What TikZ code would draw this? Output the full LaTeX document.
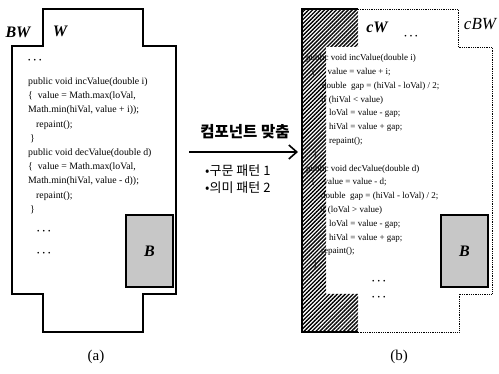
\documentclass[tikz,border=0pt]{standalone}
\usepackage{fontspec}
\setmainfont{Liberation Serif}
\newfontfamily\hangul{Noto Sans CJK KR}
\usetikzlibrary{arrows.meta, positioning, calc, patterns.meta}

% three small dots used in the code listings
\newcommand{\codedots}{{\fontsize{7}{7}\selectfont •\hspace{3pt}•\hspace{3pt}•}}

\begin{document}
\begin{tikzpicture}[
    x=1pt, y=-1pt, % work in pixel units, y downwards
    >={Straight Barb[length=8pt, width=14pt, line width=1.6pt]},
    shapeline/.style={line width=1.1pt, line join=miter},
    cutline/.style={line width=0.8pt, densely dotted},
    code/.style={anchor=base west, inner sep=0pt, font=\fontsize{9.8}{11}\selectfont},
    ccode/.style={code, font=\fontsize{9}{11}\selectfont},
    tag/.style={inner sep=0pt, font=\fontsize{16}{18}\selectfont\bfseries\itshape},
    bbox/.style={draw, line width=1.6pt, fill=black!22},
    hatch/.style={pattern={Lines[angle=45, distance=2.8pt, line width=1.35pt]}},
    caption/.style={inner sep=0pt, font=\fontsize{15}{17}\selectfont}
]

    \useasboundingbox (0,0) rectangle (499,374);

    % ---------- (a) widget W inside black-box widget BW ----------
    \draw[shapeline] (43,9) -- (143,9) -- (143,46) -- (176,46) -- (176,294)
        -- (143,294) -- (143,332) -- (43,332) -- (43,294) -- (12,294)
        -- (12,46) -- (43,46) -- cycle;
    \node[tag] (bwA) at (18,32) {BW};
    \node[tag] (wA) at (60,31) {W};

    \node[code] (a0) at (28,63) {\codedots};
    \node[code] (a1) at (28,85) {public void incValue(double i)};
    \node[code] (a2) at (28,99) {\{\ \ value = Math.max(loVal,};
    \node[code] (a3) at (28,113) {Math.min(hiVal, value + i));};
    \node[code] (a4) at (36,128) {repaint();};
    \node[code] (a5) at (30,142) {\}};
    \node[code] (a6) at (28,156) {public void decValue(double d)};
    \node[code] (a7) at (28,170) {\{\ \ value = Math.max(loVal,};
    \node[code] (a8) at (28,184) {Math.min(hiVal, value - d));};
    \node[code] (a9) at (36,199) {repaint();};
    \node[code] (a10) at (30,213) {\}};
    \node[code] (a11) at (37,234) {\codedots};
    \node[code] (a12) at (37,256) {\codedots};

    % black box B
    \draw[bbox] (126,215) rectangle (173,287);
    \node[tag] (bA) at (149.5,251) {B};

    % ---------- transformation arrow ----------
    \node[font=\hangul\bfseries\fontsize{15.5}{17}\selectfont, inner sep=0pt] (match) at (245,132) {컴포넌트 맞춤};
    \coordinate (arrS) at (189,152);
    \coordinate (arrE) at (298,152);
    \draw[->, line width=1.8pt] (arrS) -- (arrE);
    \node[anchor=west, inner sep=0pt, font=\hangul\fontsize{13}{15}\selectfont] (pat1) at (205,171) {•구문 패턴 1};
    \node[anchor=west, inner sep=0pt, font=\hangul\fontsize{13}{15}\selectfont] (pat2) at (205,188) {•의미 패턴 2};

    % ---------- (b) component cW inside cBW ----------
    \node[ccode] (b1) at (306,61) {public void incValue(double i)};
    \node[ccode] (b2) at (311,75) {\{\hspace{12pt}value = value + i;};
    \node[ccode] (b3) at (322,89) {double\ \ gap = (hiVal - loVal) / 2;};
    \node[ccode] (b4) at (321,103) {if (hiVal < value)};
    \node[ccode] (b5) at (329,116) {loVal = value - gap;};
    \node[ccode] (b6) at (329,130) {hiVal = value + gap;};
    \node[ccode] (b7) at (329,144) {repaint();};
    \node[ccode] (b8) at (313,158) {\}};
    \node[ccode] (b9) at (306,172) {public void decValue(double d)};
    \node[ccode] (b10) at (311,185) {\{\hspace{8pt}value = value - d;};
    \node[ccode] (b11) at (321,199) {double\ \ gap = (hiVal - loVal) / 2;};
    \node[ccode] (b12) at (320,213) {if (loVal > value)};
    \node[ccode] (b13) at (329,227) {loVal = value - gap;};
    \node[ccode] (b14) at (329,241) {hiVal = value + gap;};
    \node[ccode] (b15) at (321,254) {repaint();};
    \node[ccode] (b16) at (313,268) {\}};
    \node[ccode] (b17) at (372,284) {\codedots};
    \node[ccode] (b18) at (372,300) {\codedots};

    % hatched part of cBW, drawn over the code
    \fill[hatch] (302,9) -- (358,9) -- (358,47) -- (326,47) -- (326,294)
        -- (358,294) -- (358,332) -- (302,332) -- cycle;
    \draw[shapeline] (358,9) -- (302,9) -- (302,332) -- (358,332);
    \draw[cutline] (358,9) -- (458,9) -- (458,47) -- (492,47) -- (492,294)
        -- (459,294) -- (459,332) -- (358,332);

    \node[tag] (wB) at (377,27) {cW};
    \node[inner sep=0pt] (dotsB) at (411,37) {\codedots};
    \node[inner sep=0pt, font=\fontsize{17}{19}\selectfont\itshape] (bwB) at (480,24) {cBW};

    \draw[bbox] (441,215) rectangle (488,287);
    \node[tag] (bB) at (464.5,251) {B};

    % captions
    \node[caption] (capA) at (96,357) {(a)};
    \node[caption] (capB) at (399,357) {(b)};

\end{tikzpicture}
\end{document}
